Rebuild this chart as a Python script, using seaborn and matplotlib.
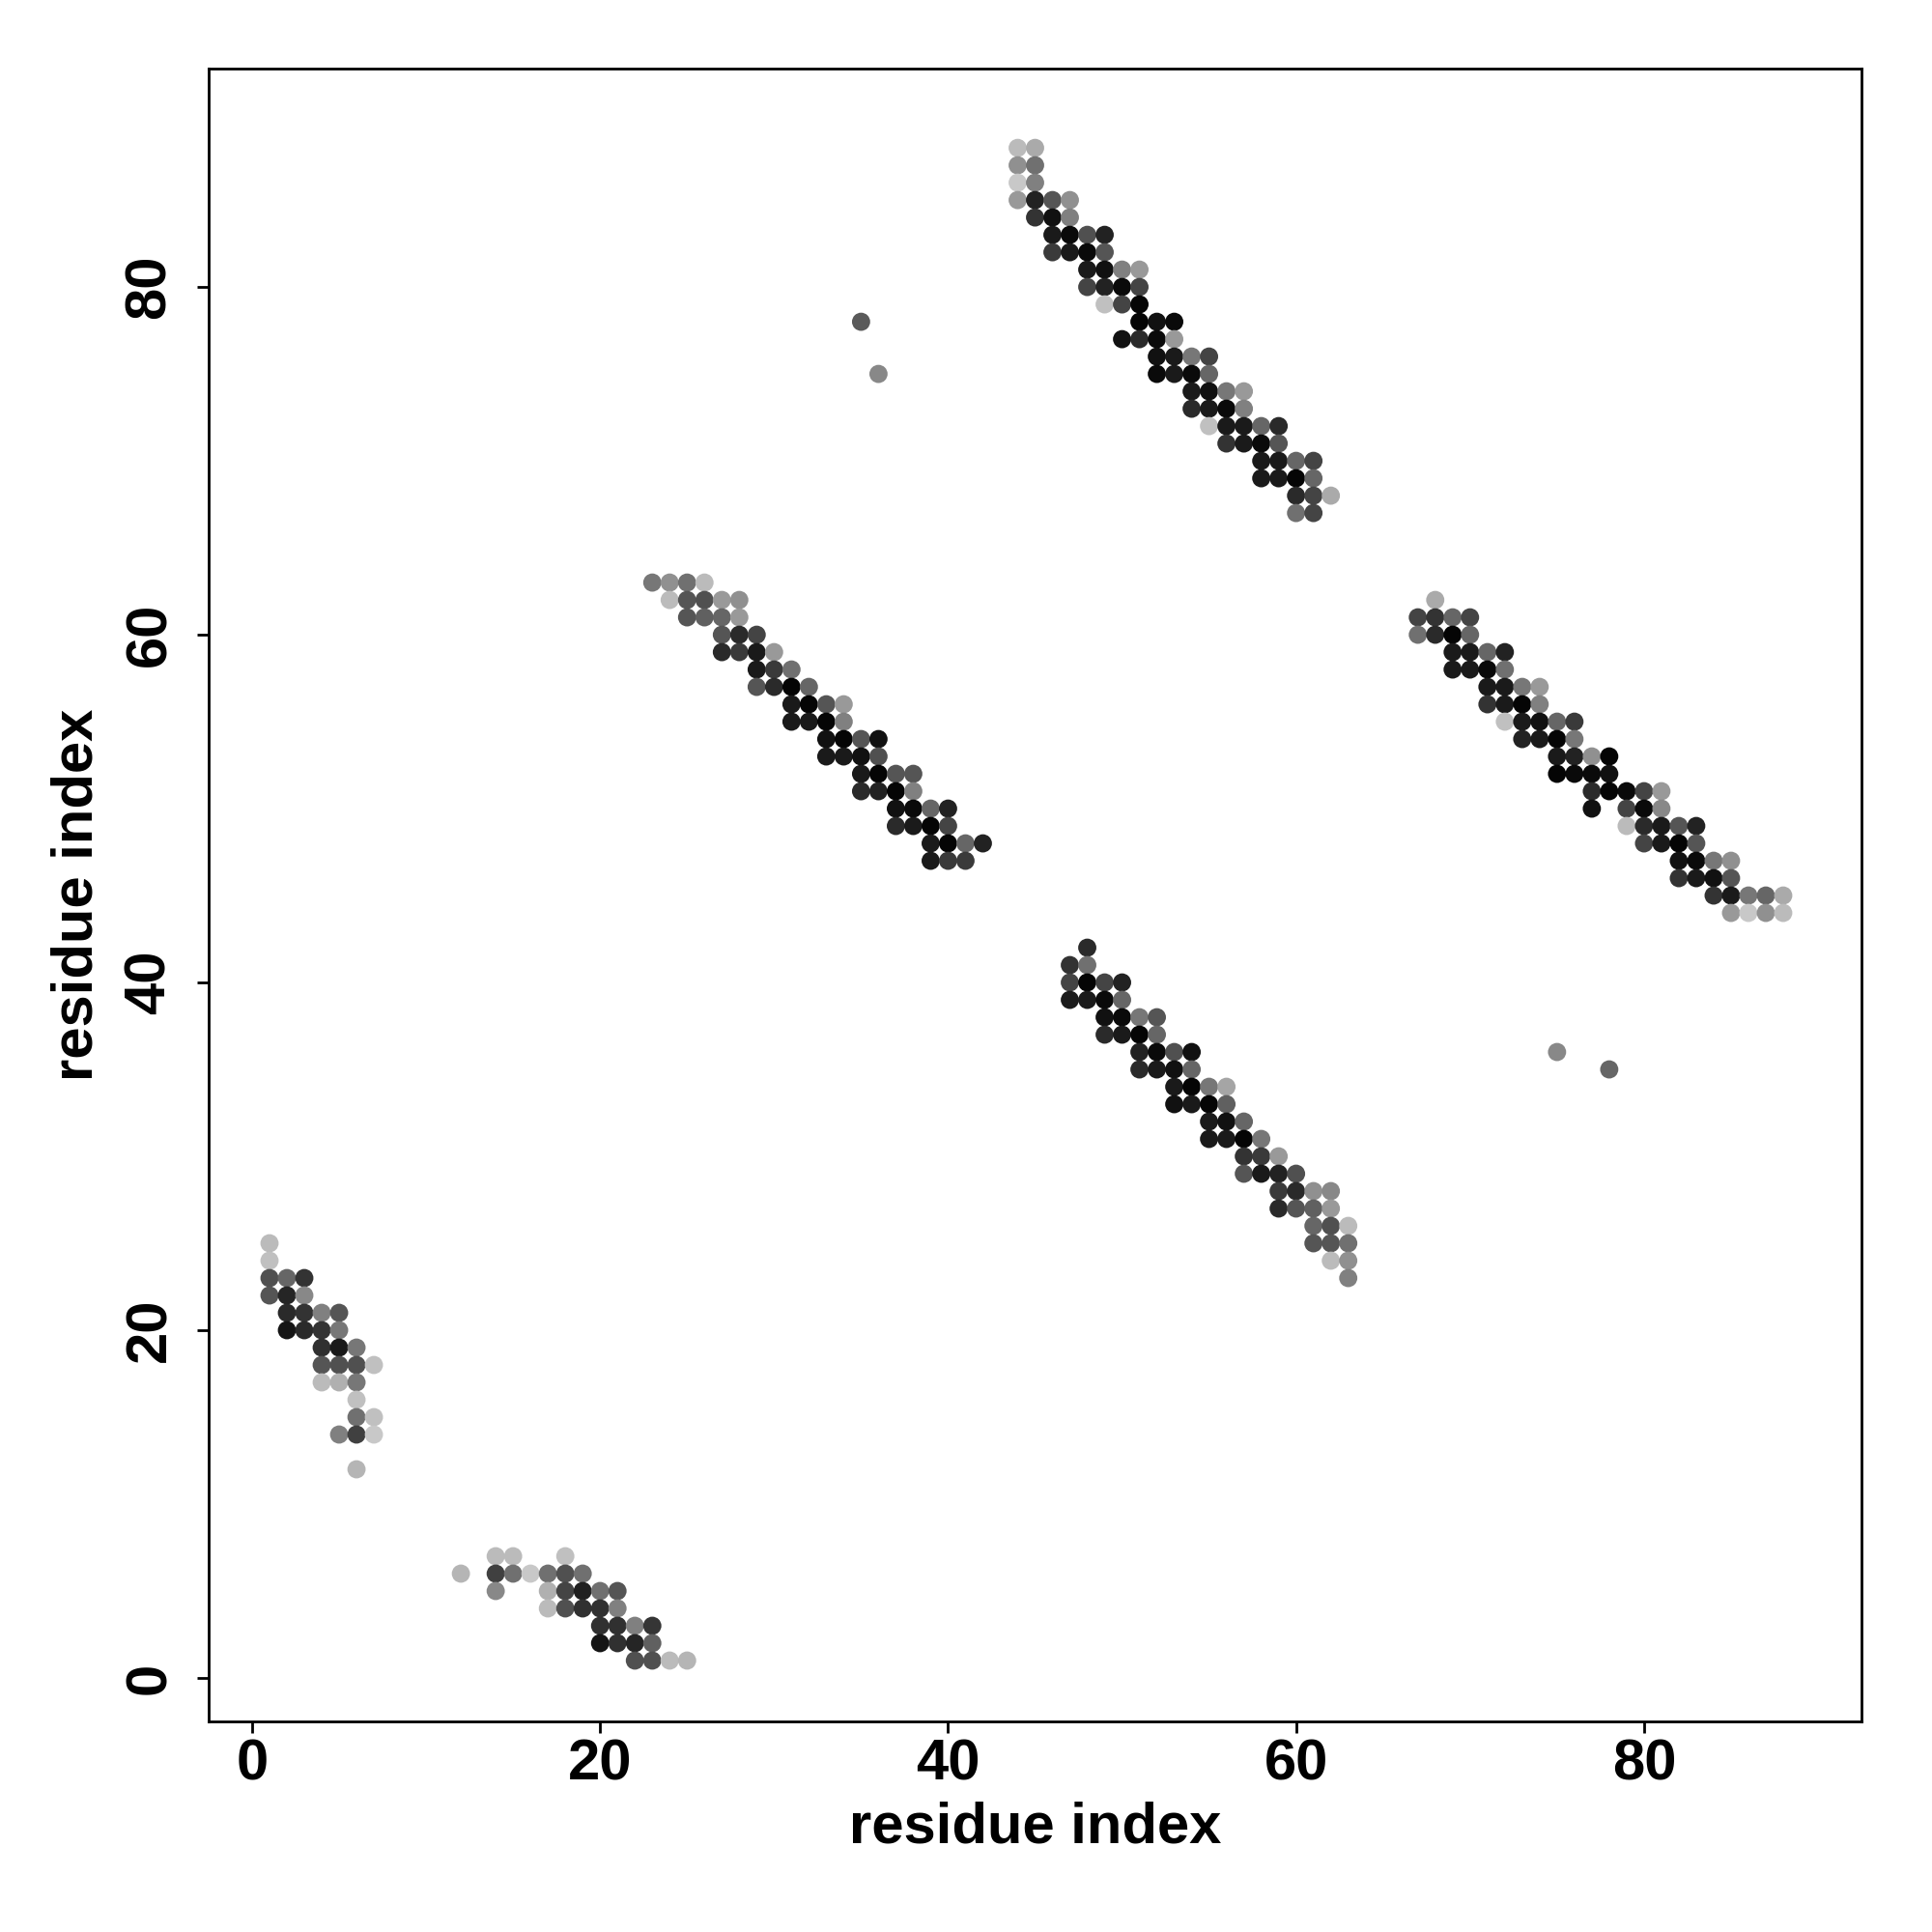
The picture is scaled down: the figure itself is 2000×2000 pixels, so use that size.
import numpy as np
import pandas as pd
import matplotlib
matplotlib.use("Agg")
import matplotlib.pyplot as plt
import seaborn as sns

# contact map: residue i, residue j, grey level (0 = black, 255 = white)

# bottom strand (x 12-25, y 1-7)
a_x = [14, 15, 18,
       12, 14, 15, 16, 17, 18, 19,
       14, 17, 18, 19, 20, 21,
       17, 18, 19, 20, 21,
       20, 21, 22, 23,
       20, 21, 22, 23,
       22, 23, 24, 25]
a_y = [7, 7, 7,
       6, 6, 6, 6, 6, 6, 6,
       5, 5, 5, 5, 5, 5,
       4, 4, 4, 4, 4,
       3, 3, 3, 3,
       2, 2, 2, 2,
       1, 1, 1, 1]
a_g = [187, 187, 192,
       181, 64, 112, 200, 112, 80, 112,
       136, 176, 68, 32, 112, 85,
       187, 80, 48, 48, 128,
       48, 48, 128, 53,
       21, 48, 37, 96,
       80, 80, 187, 181]

# left strand (x 1-7, y 12-25)
b_x = [1, 1,
       1, 2, 3,
       1, 2, 3,
       2, 3, 4, 5,
       2, 3, 4, 5,
       4, 5, 6,
       4, 5, 6, 7,
       4, 5, 6,
       6,
       6, 7,
       5, 6, 7,
       6]
b_y = [25, 24,
       23, 23, 23,
       22, 22, 22,
       21, 21, 21, 21,
       20, 20, 20, 20,
       19, 19, 19,
       18, 18, 18, 18,
       17, 17, 17,
       16,
       15, 15,
       14, 14, 14,
       12]
b_g = [187, 192,
       80, 102, 51,
       85, 37, 136,
       42, 51, 128, 85,
       21, 42, 51, 119,
       48, 26, 119,
       85, 80, 80, 192,
       187, 176, 119,
       192,
       112, 192,
       128, 64, 200,
       181]

# upper strand (x 44-62, y 67-88)
c_x = [44, 45, 44, 45, 44, 45,
       44, 45, 46, 47,
       45, 46, 47,
       46, 47, 48, 49,
       46, 47, 48, 49,
       48, 49, 50, 51,
       48, 49, 50, 51,
       49, 50, 51,
       51, 52, 53,
       50, 51, 52, 53,
       52, 53, 54, 55,
       52, 53, 54, 55,
       54, 55, 56, 57,
       54, 55, 56, 57,
       55, 56, 57, 58, 59,
       56, 57, 58, 59,
       58, 59, 60, 61,
       58, 59, 60, 61,
       60, 61, 62,
       60, 61]
c_y = [88, 88, 87, 87, 86, 86,
       85, 85, 85, 85,
       84, 84, 84,
       83, 83, 83, 83,
       82, 82, 82, 82,
       81, 81, 81, 81,
       80, 80, 80, 80,
       79, 79, 79,
       78, 78, 78,
       77, 77, 77, 77,
       76, 76, 76, 76,
       75, 75, 75, 75,
       74, 74, 74, 74,
       73, 73, 73, 73,
       72, 72, 72, 72, 72,
       71, 71, 71, 71,
       70, 70, 70, 70,
       69, 69, 69, 69,
       68, 68, 68,
       67, 67]
c_g = [187, 170, 144, 112, 200, 128,
       153, 34, 85, 144,
       51, 17, 128,
       26, 10, 80, 34,
       58, 26, 10, 85,
       26, 17, 128, 153,
       68, 34, 10, 68,
       192, 68, 5,
       5, 17, 10,
       17, 42, 10, 153,
       17, 26, 119, 68,
       10, 26, 10, 102,
       26, 17, 119, 153,
       42, 26, 10, 128,
       192, 26, 26, 102, 42,
       51, 26, 10, 85,
       26, 26, 102, 68,
       26, 26, 5, 102,
       42, 68, 170,
       112, 68]

# middle strand (x 23-42, y 47-63)
d_x = [23, 24, 25, 26,
       24, 25, 26, 27, 28,
       25, 26, 27, 28,
       27, 28, 29,
       27, 28, 29, 30,
       29, 30, 31,
       29, 30, 31, 32,
       31, 32, 33, 34,
       31, 32, 33, 34,
       33, 34, 35, 36,
       33, 34, 35, 36,
       35, 36, 37, 38,
       35, 36, 37, 38,
       37, 38, 39, 40,
       37, 38, 39, 40,
       39, 40, 41, 42,
       39, 40, 41]
d_y = [63, 63, 63, 63,
       62, 62, 62, 62, 62,
       61, 61, 61, 61,
       60, 60, 60,
       59, 59, 59, 59,
       58, 58, 58,
       57, 57, 57, 57,
       56, 56, 56, 56,
       55, 55, 55, 55,
       54, 54, 54, 54,
       53, 53, 53, 53,
       52, 52, 52, 52,
       51, 51, 51, 51,
       50, 50, 50, 50,
       49, 49, 49, 49,
       48, 48, 48, 48,
       47, 47, 47]
d_g = [119, 144, 112, 187,
       187, 85, 80, 153, 144,
       85, 96, 102, 153,
       85, 42, 68,
       42, 58, 26, 153,
       26, 58, 112,
       85, 42, 5, 102,
       26, 5, 85, 153,
       26, 26, 5, 128,
       17, 5, 85, 17,
       26, 26, 17, 80,
       26, 5, 85, 85,
       42, 34, 5, 128,
       17, 10, 102, 34,
       42, 26, 5, 68,
       26, 5, 102, 34,
       26, 58, 58]

# right strand (x 67-88, y 44-62)
e_x = [68,
       67, 68, 69, 70,
       67, 68, 69, 70,
       69, 70, 71, 72,
       69, 70, 71, 72,
       71, 72, 73, 74,
       71, 72, 73, 74,
       72, 73, 74, 75, 76,
       73, 74, 75, 76,
       75, 76, 77, 78,
       75, 76, 77, 78,
       77, 78, 79, 80, 81,
       77, 79, 80, 81,
       79, 80, 81, 82, 83,
       80, 81, 82, 83,
       82, 83, 84, 85,
       82, 83, 84, 85,
       84, 85, 86, 87, 88,
       85, 86, 87, 88]
e_y = [62,
       61, 61, 61, 61,
       60, 60, 60, 60,
       59, 59, 59, 59,
       58, 58, 58, 58,
       57, 57, 57, 57,
       56, 56, 56, 56,
       55, 55, 55, 55, 55,
       54, 54, 54, 54,
       53, 53, 53, 53,
       52, 52, 52, 52,
       51, 51, 51, 51, 51,
       50, 50, 50, 50,
       49, 49, 49, 49, 49,
       48, 48, 48, 48,
       47, 47, 47, 47,
       46, 46, 46, 46,
       45, 45, 45, 45, 45,
       44, 44, 44, 44]
e_g = [170,
       68, 51, 102, 68,
       112, 42, 5, 102,
       26, 26, 102, 34,
       26, 26, 10, 112,
       26, 26, 119, 153,
       51, 26, 5, 128,
       192, 26, 17, 102, 58,
       34, 26, 5, 119,
       26, 34, 144, 5,
       5, 10, 10, 17,
       42, 5, 10, 68, 153,
       17, 68, 10, 136,
       187, 42, 26, 85, 34,
       68, 26, 5, 85,
       17, 10, 119, 144,
       51, 26, 17, 85,
       51, 26, 119, 102, 170,
       153, 200, 144, 187]

# lower strand (x 47-63, y 23-42)
f_x = [48,
       47, 48,
       47, 48, 49, 50,
       47, 48, 49, 50,
       49, 50, 51, 52,
       49, 50, 51, 52,
       51, 52, 53, 54,
       51, 52, 53, 54,
       53, 54, 55, 56,
       53, 54, 55, 56,
       55, 56, 57,
       55, 56, 57, 58,
       57, 58, 59,
       57, 58, 59, 60,
       59, 60, 61, 62,
       59, 60, 61, 62,
       61, 62, 63,
       61, 62, 63,
       62, 63,
       63]
f_y = [42,
       41, 41,
       40, 40, 40, 40,
       39, 39, 39, 39,
       38, 38, 38, 38,
       37, 37, 37, 37,
       36, 36, 36, 36,
       35, 35, 35, 35,
       34, 34, 34, 34,
       33, 33, 33, 33,
       32, 32, 32,
       31, 31, 31, 31,
       30, 30, 30,
       29, 29, 29, 29,
       28, 28, 28, 28,
       27, 27, 27, 27,
       26, 26, 26,
       25, 25, 25,
       24, 24,
       23]
f_g = [42,
       51, 112,
       68, 5, 68, 34,
       26, 26, 10, 102,
       17, 10, 119, 85,
       42, 26, 5, 102,
       34, 10, 80, 17,
       42, 26, 17, 102,
       26, 5, 119, 165,
       17, 26, 5, 96,
       26, 17, 102,
       26, 26, 5, 119,
       51, 58, 153,
       85, 26, 34, 80,
       58, 42, 144, 136,
       42, 85, 96, 153,
       102, 80, 187,
       85, 85, 112,
       187, 144,
       128]

# stray contacts
s_x = [35, 36, 75, 78]
s_y = [78, 75, 36, 35]
s_g = [90, 136, 136, 102]

frames = []
for xs, ys, gs in [(a_x, a_y, a_g), (b_x, b_y, b_g), (c_x, c_y, c_g),
                   (d_x, d_y, d_g), (e_x, e_y, e_g), (f_x, f_y, f_g),
                   (s_x, s_y, s_g)]:
    frames.append(pd.DataFrame({"i": xs, "j": ys, "grey": gs}))
df = pd.concat(frames, ignore_index=True)

sns.set_style("white")
plt.rcParams["font.family"] = ["Liberation Sans", "DejaVu Sans"]
plt.rcParams["font.weight"] = "bold"
plt.rcParams["text.color"] = "black"
plt.rcParams["axes.labelcolor"] = "black"
plt.rcParams["xtick.color"] = "black"
plt.rcParams["ytick.color"] = "black"

fig = plt.figure(figsize=(10, 10), dpi=200)
ax = fig.add_axes([0.1078, 0.109, 0.8559, 0.8553])

sns.scatterplot(data=df, x="i", y="j", hue="grey", palette="gray",
                hue_norm=(0, 255), s=46, linewidth=0, legend=False, ax=ax)

ax.set_xlim(-2.52, 92.52)
ax.set_ylim(-2.5, 92.54)
ax.set_xticks([0, 20, 40, 60, 80])
ax.set_yticks([0, 20, 40, 60, 80])

for sp in ax.spines.values():
    sp.set_visible(True)
    sp.set_color("black")
    sp.set_linewidth(1.0)

ax.tick_params(axis="both", direction="out", length=4.2, width=1.0,
               color="black", labelcolor="black", labelsize=21.5,
               bottom=True, left=True)
ax.tick_params(axis="x", pad=2.0)
ax.tick_params(axis="y", pad=7.5)
for lab in ax.get_yticklabels():
    lab.set_rotation(90)
    lab.set_va("center")
for lab in ax.get_xticklabels() + ax.get_yticklabels():
    lab.set_fontweight("bold")

ax.set_xlabel("residue index", fontsize=21.5, fontweight="bold", va="center", color="black")
ax.set_ylabel("residue index", fontsize=21.5, fontweight="bold", va="center", ha="center", color="black")
ax.xaxis.set_label_coords(0.5, -0.0643)
ax.yaxis.set_label_coords(-0.0792, 0.5)

fig.savefig("out.png", dpi=200)
